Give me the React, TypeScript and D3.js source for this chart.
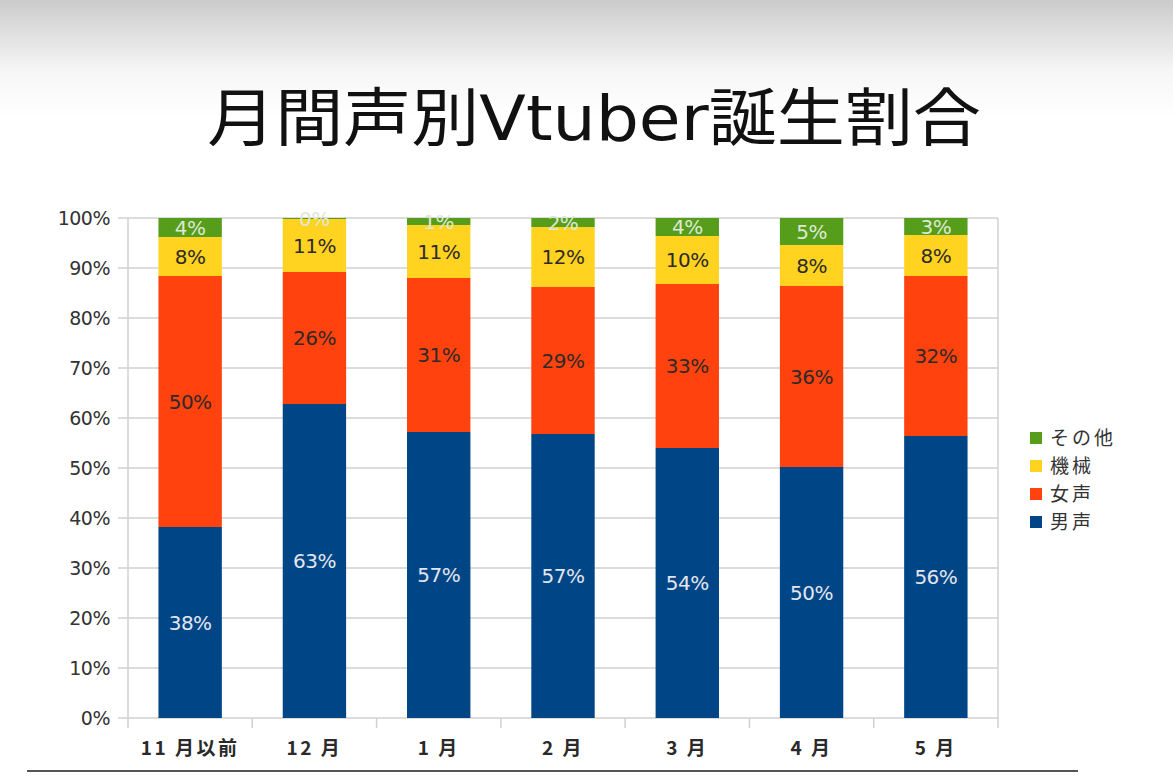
import React, { useEffect, useRef } from "react";
import * as d3 from "d3";

// months (x categories)
const months = ["11 月以前", "12 月", "1 月", "2 月", "3 月", "4 月", "5 月"];
// series, bottom to top
const seriesNames = ["男声", "女声", "機械", "その他"];
// share of each series per month, in %
const male = [38.2, 62.8, 57.2, 56.8, 54.0, 50.2, 56.4];
const female = [50.2, 26.4, 30.8, 29.4, 32.8, 36.2, 32.0];
const machine = [7.8, 10.6, 10.6, 12.0, 9.6, 8.2, 8.2];
const other = [3.8, 0.2, 1.4, 1.8, 3.6, 5.4, 3.4];
const yTicks = [0, 10, 20, 30, 40, 50, 60, 70, 80, 90, 100];

const colors = ["#004586", "#ff420e", "#ffd320", "#579d1c"];
const labelColors = ["#e4e6ee", "#2e2a28", "#2e2a28", "#dde8d4"];

const App: React.FC = () => {
  const svgRef = useRef<SVGSVGElement | null>(null);

  useEffect(() => {
    const svg = d3.select(svgRef.current);
    svg.selectAll("*").remove();

    const w = 1173;
    const h = 783;
    const m = { top: 218, right: 175, bottom: 65, left: 128 };
    const font = "'DejaVu Sans', sans-serif";
    const cjk = "'Noto Sans CJK JP', sans-serif";

    svg.attr("width", w).attr("height", h).attr("viewBox", `0 0 ${w} ${h}`);

    // slide background, grey fade at the top
    const grad = svg.append("defs").append("linearGradient")
      .attr("id", "bg").attr("x1", 0).attr("y1", 0).attr("x2", 0).attr("y2", 1);
    grad.append("stop").attr("offset", "0").attr("stop-color", "#cbcbcb");
    grad.append("stop").attr("offset", "0.09").attr("stop-color", "#f6f6f6");
    grad.append("stop").attr("offset", "0.15").attr("stop-color", "#ffffff");
    svg.append("rect").attr("width", w).attr("height", h).attr("fill", "url(#bg)");

    const table = months.map((mo, i) => ({
      month: mo,
      男声: male[i],
      女声: female[i],
      機械: machine[i],
      その他: other[i],
    }));

    const x = d3.scaleBand()
      .domain(months)
      .range([m.left, w - m.right])
      .paddingInner(0.49)
      .paddingOuter(0.245);

    const y = d3.scaleLinear()
      .domain([0, 100])
      .range([h - m.bottom, m.top]);

    // title (the slide is slightly stretched sideways)
    const title = svg.append("text")
      .attr("transform", "translate(594, 140) scale(1.08, 1)")
      .attr("text-anchor", "middle")
      .style("font-family", cjk)
      .style("font-size", "63px")
      .attr("fill", "#111");
    title.append("tspan").text("月間声別");
    title.append("tspan").style("font-family", font).text("Vtuber");
    title.append("tspan").text("誕生割合");

    // gridlines
    svg.append("g")
      .selectAll("line")
      .data(yTicks)
      .join("line")
      .attr("x1", m.left - 10)
      .attr("x2", w - m.right)
      .attr("y1", d => y(d))
      .attr("y2", d => y(d))
      .attr("stroke", "#d0d0d0")
      .attr("stroke-width", 1.5);

    // category boundaries / ticks
    const bounds = months.map(mo => x(mo)! - (x.step() - x.bandwidth()) / 2);
    bounds.push(w - m.right);
    svg.append("g")
      .selectAll("line")
      .data(bounds)
      .join("line")
      .attr("x1", d => d)
      .attr("x2", d => d)
      .attr("y1", (d, i) => (i === 0 || i === bounds.length - 1 ? m.top : h - m.bottom))
      .attr("y2", h - m.bottom + 10)
      .attr("stroke", "#d0d0d0")
      .attr("stroke-width", 1.5);

    // y tick labels
    svg.append("g")
      .selectAll("text")
      .data(yTicks)
      .join("text")
      .attr("x", m.left - 18)
      .attr("y", d => y(d))
      .attr("dy", "0.36em")
      .attr("text-anchor", "end")
      .style("font-family", font)
      .style("font-size", "19px")
      .style("letter-spacing", "-0.5px")
      .attr("fill", "#333")
      .text(d => `${d}%`);

    // x labels
    svg.append("g")
      .selectAll("text")
      .data(months)
      .join("text")
      .attr("x", d => x(d)! + x.bandwidth() / 2)
      .attr("y", h - m.bottom + 30)
      .attr("dy", "0.36em")
      .attr("text-anchor", "middle")
      .style("font-family", cjk)
      .style("font-size", "19px")
      .style("font-weight", "bold")
      .style("letter-spacing", "2.5px")
      .attr("fill", "#2a2a2a")
      .text(d => d);

    const stacked = d3.stack<any>().keys(seriesNames)(table);

    const layers = svg.append("g")
      .selectAll("g")
      .data(stacked)
      .join("g")
      .attr("fill", (d, i) => colors[i]);

    layers.selectAll("rect")
      .data(d => d)
      .join("rect")
      .attr("x", d => x(d.data.month)!)
      .attr("y", d => y(d[1]))
      .attr("width", x.bandwidth())
      .attr("height", d => y(d[0]) - y(d[1]));

    // value labels
    stacked.forEach((layer, i) => {
      svg.append("g")
        .selectAll("text")
        .data(layer)
        .join("text")
        .attr("x", d => x(d.data.month)! + x.bandwidth() / 2)
        .attr("y", d => y((d[0] + d[1]) / 2))
        .attr("dy", "0.36em")
        .attr("text-anchor", "middle")
        .style("font-family", font)
        .style("font-size", "20px")
        .style("letter-spacing", "-0.5px")
        .attr("fill", labelColors[i])
        .text(d => `${Math.round(d[1] - d[0])}%`);
    });

    // legend
    const legend = svg.append("g")
      .selectAll("g")
      .data(seriesNames.slice().reverse())
      .join("g")
      .attr("transform", (d, i) => `translate(1030, ${438 + i * 28})`);

    legend.append("rect")
      .attr("x", 0)
      .attr("y", -6)
      .attr("width", 12)
      .attr("height", 12)
      .attr("fill", d => colors[seriesNames.indexOf(d)]);

    legend.append("text")
      .attr("x", 20)
      .attr("dy", "0.36em")
      .style("font-family", cjk)
      .style("font-size", "19px")
      .style("letter-spacing", "3px")
      .attr("fill", "#333")
      .text(d => d);

    // slide rule below the chart
    svg.append("line")
      .attr("x1", 27)
      .attr("x2", 1078)
      .attr("y1", 771)
      .attr("y2", 771)
      .attr("stroke", "#555")
      .attr("stroke-width", 2);
  }, []);

  return (
    <div style={{ position: "absolute", left: 0, top: 0, width: 1173, height: 783 }}>
      <svg ref={svgRef}></svg>
    </div>
  );
};

export default App;
